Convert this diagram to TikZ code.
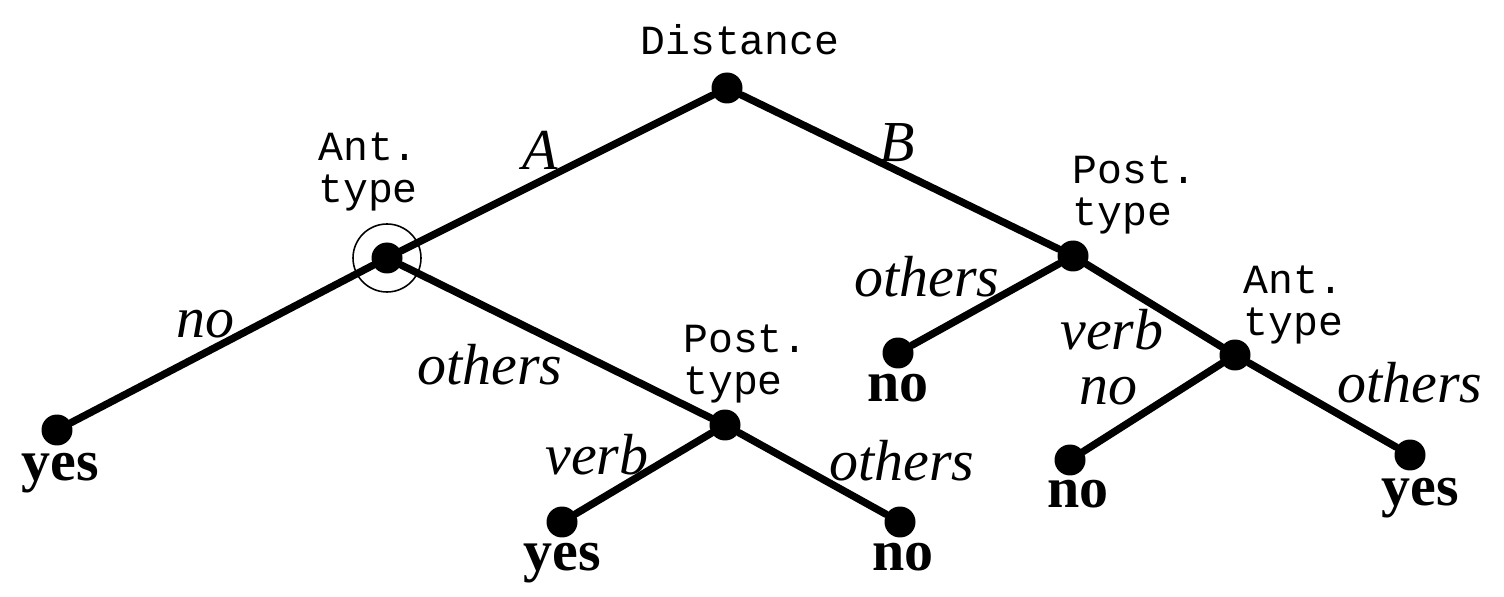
\documentclass[tikz,border=0pt]{standalone}
\usepackage{fontspec}
\setmainfont{Liberation Serif}
\setmonofont{Liberation Mono}
\begin{document}
\begin{tikzpicture}[x=0.02cm,y=-0.02cm,
  dot/.style={circle,fill=black,inner sep=0pt,minimum size=0.62cm},
  edge/.style={line width=4.2pt,line cap=round},
  ring/.style={circle,draw=black,line width=0.9pt,minimum size=1.36cm,inner sep=0pt},
  attr/.style={font=\ttfamily\fontsize{23.6}{24.4}\selectfont,align=left,inner sep=0pt},
  val/.style={font=\itshape\fontsize{33}{36}\selectfont,inner sep=0pt,anchor=base},
  leaf/.style={font=\bfseries\fontsize{33}{36}\selectfont,inner sep=0pt,anchor=base}]
\useasboundingbox (0,0) rectangle (1504,597);
% decision nodes
\node[dot] (root) at (727,88) {};
\node[dot] (ant1) at (387,258) {};
\node[dot] (post1) at (725,425) {};
\node[dot] (post2) at (1073,256) {};
\node[dot] (ant2) at (1235,355) {};
% leaves
\node[dot] (l1) at (57,430) {};
\node[dot] (l2) at (562,522) {};
\node[dot] (l3) at (900,522) {};
\node[dot] (l4) at (898,353) {};
\node[dot] (l5) at (1070,460) {};
\node[dot] (l6) at (1410,455) {};
% ring
\node[ring] (ringA) at (ant1) {};
% edges
\draw[edge] (root) -- (ant1);
\draw[edge] (root) -- (post2);
\draw[edge] (ant1) -- (l1);
\draw[edge] (ant1) -- (post1);
\draw[edge] (post1) -- (l2);
\draw[edge] (post1) -- (l3);
\draw[edge] (post2) -- (l4);
\draw[edge] (post2) -- (ant2);
\draw[edge] (ant2) -- (l5);
\draw[edge] (ant2) -- (l6);
% attribute labels
\node[attr,anchor=base] (tdist) at (740,55) {Distance};
\node[attr,anchor=base west] (tant1) at (318,203) {Ant.\\type};
\node[attr,anchor=base west] (tpost1) at (683,395) {Post.\\type};
\node[attr,anchor=base west] (tpost2) at (1072,226) {Post.\\type};
\node[attr,anchor=base west] (tant2) at (1243,336) {Ant.\\type};
% branch labels
\node[val] (vA) at (540,170) {A};
\node[val] (vB) at (897,162) {B};
\node[val] (vno1) at (205,338) {no};
\node[val] (voth1) at (490,385) {others};
\node[val] (vverb1) at (597,475) {verb};
\node[val] (voth2) at (902,480) {others};
\node[val] (voth3) at (927,297) {others};
\node[val] (vverb2) at (1112,350) {verb};
\node[val] (vno2) at (1108,405) {no};
\node[val] (voth4) at (1410,403) {others};
% leaf labels
\node[leaf] (y1) at (60,480) {yes};
\node[leaf] (y2) at (562,570) {yes};
\node[leaf] (n1) at (903,570) {no};
\node[leaf] (n2) at (898,402) {no};
\node[leaf] (n3) at (1078,507) {no};
\node[leaf] (y3) at (1420,505) {yes};
\end{tikzpicture}
\end{document}
